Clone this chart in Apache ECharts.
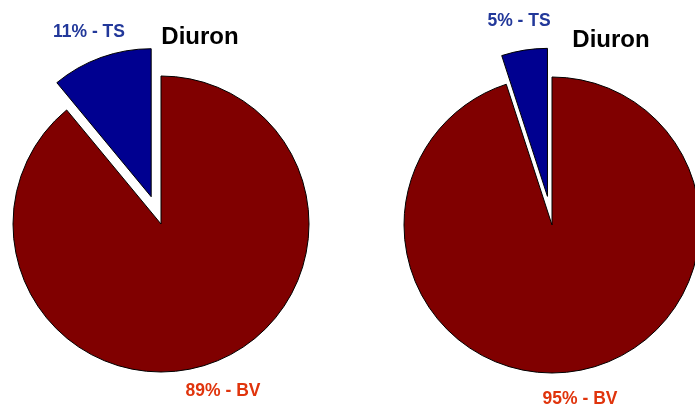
<!DOCTYPE html>
<html>
<head>
<meta charset="utf-8">
<style>
  html, body { margin: 0; padding: 0; background: #fff; }
  #chart { width: 695px; height: 408px; }
</style>
<script src="https://cdn.jsdelivr.net/npm/echarts@6/dist/echarts.min.js"></script>
</head>
<body>
<div id="chart"></div>
<script>
// 数据
const categories = ['BV', 'TS'];
const leftValues = [89, 11];
const rightValues = [95, 5];
const chartTitle = 'Diuron';

// 颜色
const sliceColors = ['#800000', '#000090'];
const labelColors = ['#e0340c', '#22389a'];
const fontFamily = 'Liberation Sans, Arial, sans-serif';

// 标签位置 [series][dataIndex]
const labelPos = [
  [[223, 391], [89, 32]],
  [[580, 399], [519, 21]]
];
const titlePos = [[200, 37], [611, 40]];

const chart = echarts.init(document.getElementById('chart'));

const makeSeries = (values, center) => ({
  type: 'pie',
  center: center,
  radius: 148,
  startAngle: 90,
  clockwise: true,
  animation: false,
  selectedMode: 'single',
  selectedOffset: 29,
  emphasis: { disabled: true },
  label: { show: false },
  labelLine: { show: false },
  itemStyle: { borderColor: '#000', borderWidth: 1 },
  data: categories.map((name, i) => ({
    name: name,
    value: values[i],
    selected: name === 'TS',
    itemStyle: { color: sliceColors[i] }
  }))
});

// 文字标签
const texts = [];
[leftValues, rightValues].forEach((values, s) => {
  categories.forEach((name, i) => {
    texts.push({
      type: 'text',
      x: labelPos[s][i][0],
      y: labelPos[s][i][1],
      style: {
        text: values[i] + '% - ' + name,
        fill: labelColors[i],
        font: 'bold 17.5px ' + fontFamily,
        align: 'center',
        verticalAlign: 'middle'
      }
    });
  });
  texts.push({
    type: 'text',
    x: titlePos[s][0],
    y: titlePos[s][1],
    style: {
      text: chartTitle,
      fill: '#000',
      font: 'bold 24px ' + fontFamily,
      align: 'center',
      verticalAlign: 'middle'
    }
  });
});

const option = {
  backgroundColor: '#fff',
  graphic: texts,
  series: [
    makeSeries(leftValues, [161, 224]),
    makeSeries(rightValues, [552, 225])
  ]
};

chart.setOption(option);
window.addEventListener('resize', () => chart.resize());
</script>
</body>
</html>
